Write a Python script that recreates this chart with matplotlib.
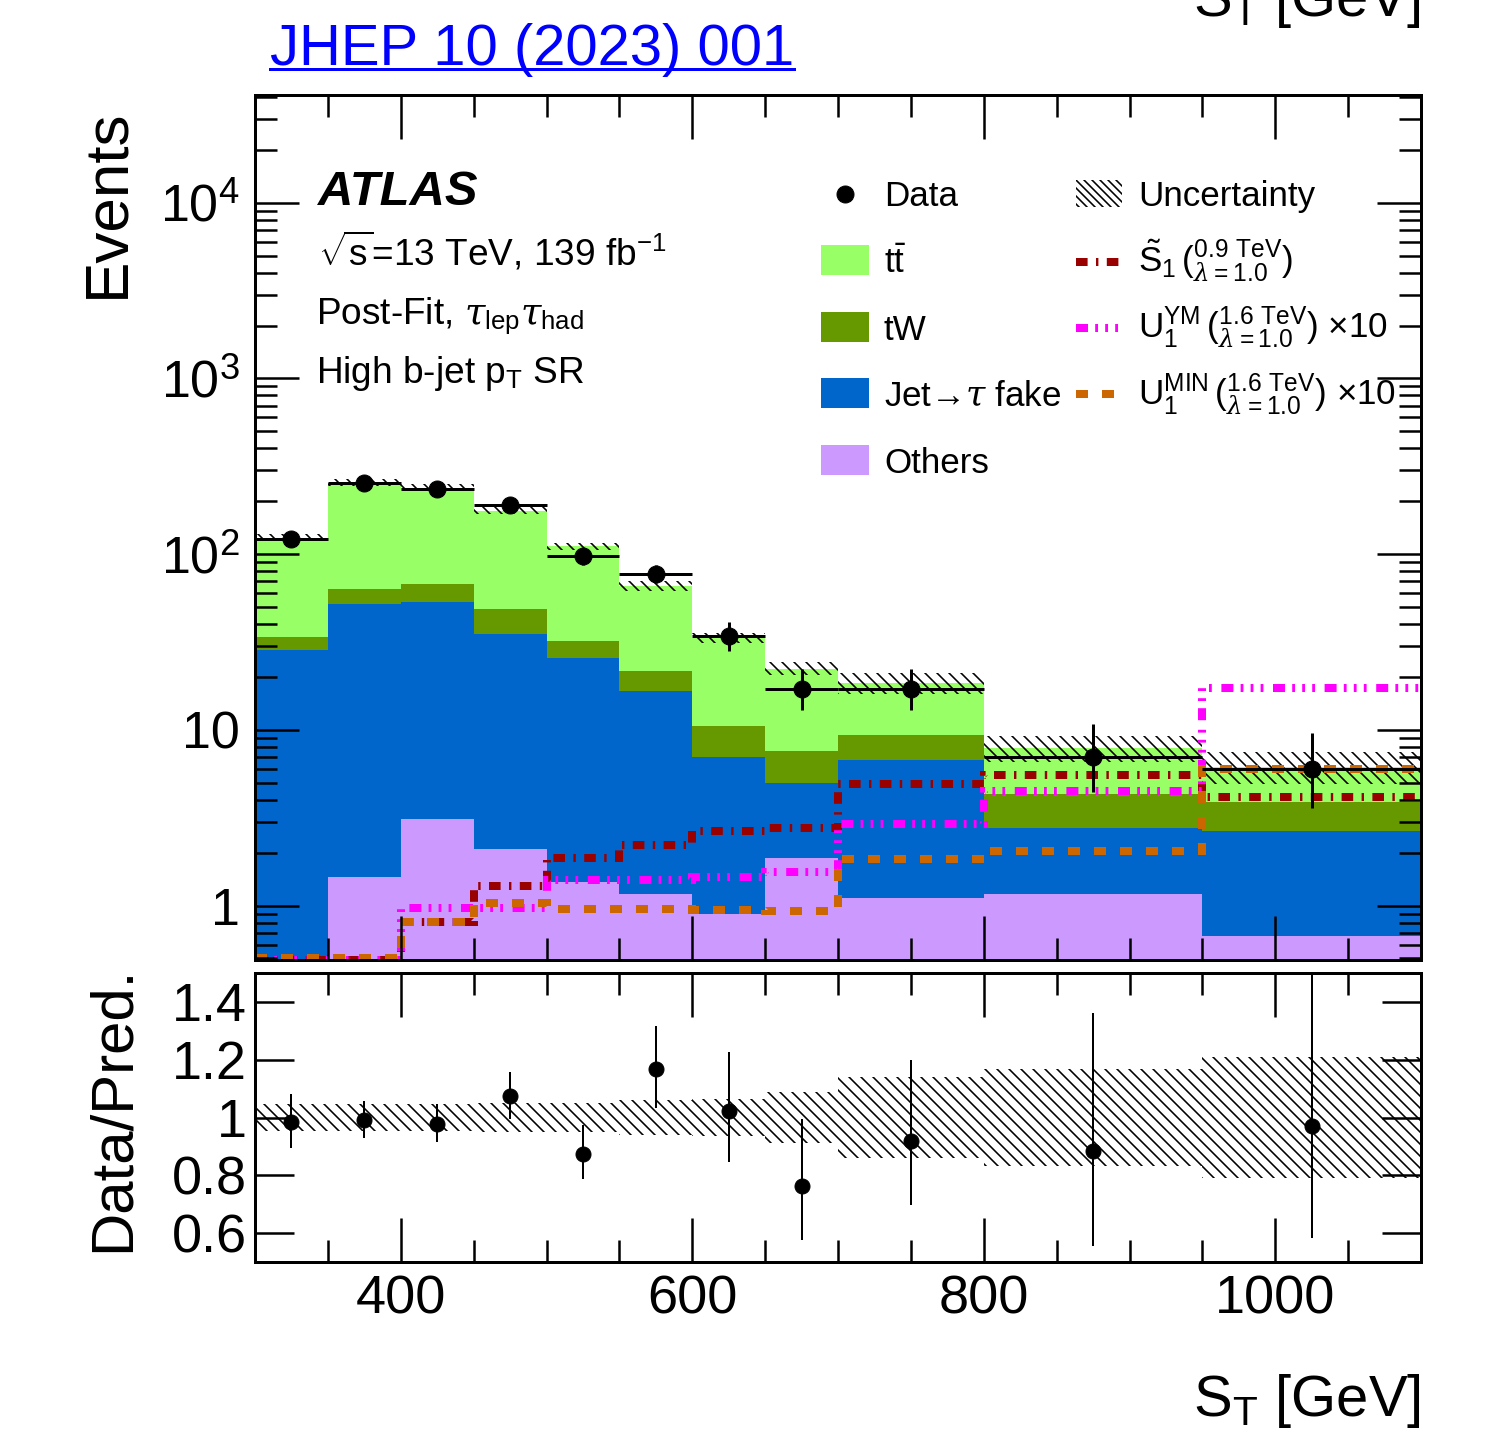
import numpy as np
import matplotlib
matplotlib.use("Agg")
import matplotlib.pyplot as plt
from matplotlib.lines import Line2D
from matplotlib.patches import Rectangle
from matplotlib.ticker import FixedLocator, FixedFormatter, MultipleLocator, LogLocator, NullFormatter

# S_T binning [GeV]
edges = np.array([300, 350, 400, 450, 500, 550, 600, 650, 700, 800, 950, 1100])

# observed events and asymmetric Poisson errors
data = np.array([122, 253, 234, 190, 97, 77, 34, 17, 17, 7, 6])
data_err_lo = np.array([11.0, 15.9, 15.3, 13.8, 9.8, 8.8, 5.8, 4.1, 4.1, 2.6, 2.4])
data_err_hi = np.array([12.1, 16.9, 16.3, 14.8, 10.9, 9.8, 6.9, 5.2, 5.2, 3.8, 3.6])

# post-fit backgrounds
others = np.array([0.40, 1.45, 3.1, 2.1, 1.36, 1.17, 0.90, 1.87, 1.10, 1.16, 0.67])
fake = np.array([28.2, 50.4, 50.4, 33.1, 24.2, 15.5, 6.1, 3.1, 5.6, 1.6, 1.97])
tw = np.array([5.1, 11.1, 14.5, 13.8, 6.3, 5.0, 3.5, 2.56, 2.6, 1.57, 1.24])
ttbar = np.array([90.3, 192, 171, 128, 79, 44.3, 22.8, 14.8, 9.2, 3.6, 2.3])

# relative total uncertainty per bin
unc_rel = np.array([0.045, 0.045, 0.045, 0.05, 0.05, 0.06, 0.065, 0.087, 0.139, 0.168, 0.208])

# signal hypotheses (U1 ones already scaled x10)
sig_s1 = np.array([0.49, 0.49, 0.81, 1.30, 1.87, 2.22, 2.64, 2.75, 4.89, 5.55, 4.14])
sig_ym = np.array([0.49, 0.49, 0.965, 0.965, 1.39, 1.39, 1.45, 1.56, 2.92, 4.46, 17.3])
sig_min = np.array([0.50, 0.50, 0.81, 1.03, 0.96, 0.96, 0.94, 0.93, 1.83, 2.05, 6.0])

bkg_names = ["Others", "Jet\u2192$\\tau$ fake", "tW", "$\\mathrm{t}\\bar{\\mathrm{t}}$"]
bkg_colors = ["#cc99ff", "#0066cc", "#669900", "#99ff66"]

W, H, DPI = 1506, 1429, 72

plt.rcParams["font.family"] = "Liberation Sans"
plt.rcParams["mathtext.fontset"] = "custom"
plt.rcParams["mathtext.rm"] = "Liberation Sans"
plt.rcParams["mathtext.sf"] = "Liberation Sans"
plt.rcParams["mathtext.bf"] = "Liberation Sans:bold"
plt.rcParams["mathtext.it"] = "DejaVu Serif:italic"
plt.rcParams["hatch.linewidth"] = 1.6


def fx(x):
    return x / W


def fy(y):
    return 1 - y / H


fig = plt.figure(figsize=(W / DPI, H / DPI), dpi=DPI)
ax = fig.add_axes([fx(255), fy(960), (1421 - 255) / W, (960 - 95) / H])
rax = fig.add_axes([fx(255), fy(1262), (1421 - 255) / W, (1262 - 973) / H])

centers = 0.5 * (edges[1:] + edges[:-1])
halfw = 0.5 * np.diff(edges)

# stacked backgrounds, drawn from the top level down
levels = np.cumsum([others, fake, tw, ttbar], axis=0)
total = levels[-1]
for lvl, col in reversed(list(zip(levels, bkg_colors))):
    ax.stairs(lvl, edges, baseline=1e-3, fill=True, color=col, lw=0)

ax.stairs(total * (1 + unc_rel), edges, baseline=total * (1 - unc_rel), fill=True,
          facecolor="none", edgecolor="black", hatch="\\\\", lw=0)

dash_s1 = (0, (1.45, 1.05, 0.3, 1.05))
dash_ym = (0, (1.5, 0.9, 0.35, 0.9, 0.35, 0.9, 0.35, 1.2))
dash_min = (0, (1.5, 1.75))
ax.stairs(sig_s1, edges, baseline=None, color="#990000", lw=8, linestyle=dash_s1)
ax.stairs(sig_ym, edges, baseline=None, color="#ff00ff", lw=8, linestyle=dash_ym)
ax.stairs(sig_min, edges, baseline=None, color="#cc6600", lw=8, linestyle=dash_min)

ax.errorbar(centers, data, xerr=halfw, yerr=[data_err_lo, data_err_hi], fmt="o",
            color="black", ms=17, elinewidth=3, capsize=0, zorder=5)

ax.set_yscale("log")
ax.set_xlim(300, 1100)
ax.set_ylim(0.49, 4.1e4)
ax.yaxis.set_major_locator(FixedLocator([1, 10, 1e2, 1e3, 1e4]))
ax.yaxis.set_major_formatter(FixedFormatter(
    ["1", "10", r"$\mathregular{10^{2}}$", r"$\mathregular{10^{3}}$", r"$\mathregular{10^{4}}$"]))
ax.yaxis.set_minor_locator(LogLocator(base=10, subs=np.arange(2, 10), numticks=20))
ax.yaxis.set_minor_formatter(NullFormatter())

# ratio panel
ratio = data / total
rax.stairs(1 + unc_rel, edges, baseline=1 - unc_rel, fill=True,
           facecolor="none", edgecolor="black", hatch="\\\\", lw=0)
rax.errorbar(centers, ratio, yerr=[data_err_lo / total, data_err_hi / total], fmt="o",
             color="black", ms=15, elinewidth=2, capsize=0, zorder=5)
rax.set_xlim(300, 1100)
rax.set_ylim(0.5, 1.5)
rax.yaxis.set_major_locator(FixedLocator([0.6, 0.8, 1.0, 1.2, 1.4]))
rax.yaxis.set_major_formatter(FixedFormatter(["0.6", "0.8", "1", "1.2", "1.4"]))

for a in (ax, rax):
    a.set_axisbelow(False)
    a.xaxis.set_major_locator(MultipleLocator(200))
    a.xaxis.set_minor_locator(MultipleLocator(50))
    a.tick_params(which="both", direction="in", top=True, right=True, width=2.5,
                  labelsize=54)
    a.tick_params(which="major", length=44)
    a.tick_params(which="minor", length=22)
    for sp in a.spines.values():
        sp.set_linewidth(3)

ax.tick_params(labelbottom=False)
ax.tick_params(axis="y", which="major", pad=15, labelsize=52)
rax.tick_params(axis="y", which="major", length=39, pad=8)
rax.tick_params(axis="x", which="major", pad=13)

# axis titles
fig.text(fx(108), fy(108), "Events", rotation=90, ha="center", va="top", fontsize=62)
fig.text(fx(113), fy(1109), "Data/Pred.", rotation=90, ha="center", va="center", fontsize=60)
xlab = r"S$_{\mathrm{T}}$ [GeV]"
fig.text(fx(1421), fy(1416), xlab, ha="right", va="baseline", fontsize=58)
fig.text(fx(1421), fy(16), xlab, ha="right", va="baseline", fontsize=58)

# journal reference with underline
ref = fig.text(fx(270), fy(65), "JHEP 10 (2023) 001", color="#0000ff", fontsize=58, va="baseline")
fig.canvas.draw()
bb = ref.get_window_extent().transformed(fig.transFigure.inverted())
fig.add_artist(Line2D([bb.x0, bb.x1], [fy(69), fy(69)], color="#0000ff", lw=3,
                      transform=fig.transFigure))

# labels
fig.text(fx(318), fy(205), "ATLAS", fontsize=49, fontweight="bold", fontstyle="italic")
fig.text(fx(318), fy(265), r"$\sqrt{\mathrm{s}}$=13 TeV, 139 fb$^{\mathrm{-1}}$", fontsize=37)
fig.text(fx(316), fy(324), r"Post-Fit, $\tau_{\mathrm{lep}}\tau_{\mathrm{had}}$", fontsize=37)
fig.text(fx(316), fy(383), r"High b-jet p$_{\mathrm{T}}$ SR", fontsize=37)

# legend, left column
fig.add_artist(Line2D([fx(845)], [fy(194)], marker="o", ms=17, color="black",
                      transform=fig.transFigure))
fig.text(fx(884), fy(206), "Data", fontsize=35)
box_rows = [(245, 273), (312, 340), (378, 406), (445, 473)]
for (top, base), name, col in zip(box_rows, reversed(bkg_names), reversed(bkg_colors)):
    fig.add_artist(Rectangle((fx(821), fy(top + 30)), 48 / W, 30 / H, facecolor=col,
                             edgecolor="none", transform=fig.transFigure))
    fig.text(fx(884), fy(base), name, fontsize=35)

# legend, right column
fig.add_artist(Rectangle((fx(1076), fy(207)), 46 / W, 27 / H, facecolor="none",
                         edgecolor="black", hatch="\\\\\\", lw=0, transform=fig.transFigure))
fig.text(fx(1138), fy(206), "Uncertainty", fontsize=35)

sig_entries = [
    (262, 272, "#990000", dash_s1,
     r"$\tilde{\mathrm{S}}_{\mathrm{1}}\,(^{\mathrm{0.9\ TeV}}_{\lambda\mathrm{=1.0}})$"),
    (328, 338, "#ff00ff", dash_ym,
     r"$\mathrm{U}_{\mathrm{1}}^{\mathrm{YM}}\,(^{\mathrm{1.6\ TeV}}_{\lambda\mathrm{=1.0}})$ ×10"),
    (394, 405, "#cc6600", dash_min,
     r"$\mathrm{U}_{\mathrm{1}}^{\mathrm{MIN}}\,(^{\mathrm{1.6\ TeV}}_{\lambda\mathrm{=1.0}})$ ×10"),
]
for ly, base, col, ls, label in sig_entries:
    fig.add_artist(Line2D([fx(1076), fx(1120)], [fy(ly), fy(ly)], color=col, lw=8,
                          linestyle=ls, transform=fig.transFigure))
    fig.text(fx(1138), fy(base), label, fontsize=35)

fig.savefig("out.png", dpi=DPI)
